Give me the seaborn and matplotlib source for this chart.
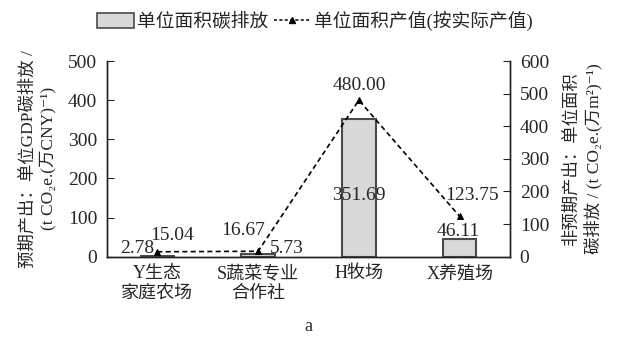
import matplotlib
matplotlib.use("Agg")
import matplotlib.pyplot as plt
from matplotlib.patches import Patch
from matplotlib.lines import Line2D
import seaborn as sns
import pandas as pd

# data
categories = ["Y生态\n家庭农场", "S蔬菜专业\n合作社", "H牧场", "X养殖场"]
carbon_per_area = [2.78, 5.73, 351.69, 46.11]        # bars, left axis
output_per_area = [15.04, 16.67, 480.00, 123.75]     # line, right axis

FONT = ["Liberation Serif", "Noto Sans CJK SC", "DejaVu Serif"]

sns.set_style("ticks")
plt.rcParams["font.family"] = FONT

df = pd.DataFrame({"cat": categories, "bar": carbon_per_area, "line": output_per_area})

fig = plt.figure(figsize=(6.17, 3.39), dpi=100)
ax = fig.add_axes([0.1734, 0.2428, 0.6532, 0.5772])

sns.barplot(data=df, x="cat", y="bar", ax=ax, color="#d9d9d9",
            edgecolor="#4a4a4a", linewidth=1.5, width=0.33, saturation=1)
ax.set_xlim(-0.5, 3.5)
ax.set_ylim(0, 500)
ax.set_yticks([0, 100, 200, 300, 400, 500])
ax.set_xlabel("a", fontsize=13, labelpad=12)
ax.set_ylabel("预期产出：单位GDP碳排放 /\n(t CO₂e.(万CNY)⁻¹)", fontsize=12.5,
              linespacing=1.25, labelpad=8)
ax.tick_params(axis="y", direction="in", length=5, labelsize=14, pad=7)
ax.tick_params(axis="x", length=0, labelsize=13, pad=6)
for lab in ax.get_xticklabels():
    lab.set_linespacing(1.2)

ax2 = ax.twinx()
sns.lineplot(data=df, x="cat", y="line", ax=ax2, color="black",
             linestyle=(0, (3, 2)), linewidth=1.2, marker="^", markersize=5,
             markeredgecolor="black")
ax2.set_ylim(0, 600)
ax2.set_yticks([0, 100, 200, 300, 400, 500, 600])
ax2.set_ylabel("非预期产出：单位面积\n碳排放 / (t CO₂e.(万m²)⁻¹)", fontsize=12.5,
               linespacing=1.3, labelpad=10)
ax2.tick_params(axis="y", direction="in", length=5, labelsize=14, pad=7)

for a in (ax, ax2):
    a.spines["top"].set_visible(False)
    for s in a.spines.values():
        s.set_color("#222222")
        s.set_linewidth(1.0)

# value labels, placed in left-axis units
bar_label_pos = [(-0.2, 22), (1.28, 22), (2.0, 156), (2.99, 64)]
for v, (x, y) in zip(carbon_per_area, bar_label_pos):
    ax.text(x, y, f"{v:.2f}", ha="center", va="center", fontsize=14)
line_label_pos = [(0.145, 55), (0.85, 68), (2.0, 438), (3.12, 156)]
for v, (x, y) in zip(output_per_area, line_label_pos):
    ax.text(x, y, f"{v:.2f}", ha="center", va="center", fontsize=14)

# legend
handles = [Patch(facecolor="#d9d9d9", edgecolor="#4a4a4a", linewidth=1.2),
           Line2D([], [], color="black", linestyle=(0, (2, 1.5)), linewidth=1.1,
                  marker="^", markersize=4)]
labels = ["单位面积碳排放", "单位面积产值(按实际产值)"]
fig.legend(handles, labels, loc="center", bbox_to_anchor=(0.51, 0.938), ncol=2,
           frameon=False, fontsize=13.5, handlelength=2.0, handleheight=0.8,
           handletextpad=0.15, columnspacing=0.3)

fig.savefig("out.png", dpi=100)
